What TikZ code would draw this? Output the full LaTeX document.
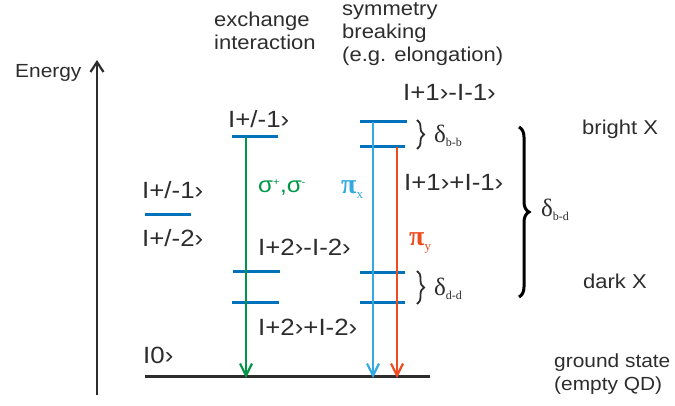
\documentclass[tikz,border=0pt]{standalone}
\usepackage{fontspec}
\setmainfont{Liberation Sans}[FakeStretch=1.1]
\newfontfamily\grk{Liberation Serif}
\usetikzlibrary{arrows.meta,decorations.pathreplacing}
\definecolor{lvlblue}{RGB}{0,114,188}
\definecolor{sgreen}{RGB}{0,150,70}
\definecolor{lblue}{RGB}{50,170,225}
\definecolor{sred}{RGB}{238,75,30}
\definecolor{txtgray}{RGB}{45,45,45}
\tikzset{
  lvl/.style={draw=lvlblue,line width=3pt},
  txt/.style={anchor=base west,inner sep=0pt,text=txtgray,font=\fontsize{20}{23}\selectfont},
  ket/.style={anchor=base west,inner sep=0pt,text=txtgray,font=\fontsize{23.5}{26}\selectfont},
  gtxt/.style={anchor=base west,inner sep=0pt,font=\grk\bfseries\fontsize{28}{29}\selectfont},
  dtxt/.style={anchor=west,inner sep=0pt,text=txtgray,font=\grk\fontsize{25}{26}\selectfont},
  trans/.style={line width=2.8pt,-{Straight Barb[length=12pt,width=12pt,line width=2.2pt]}},
  smallbrace/.style={draw=txtgray,line width=1.8pt,decorate,decoration={brace,amplitude=7pt}},
  bigbrace/.style={draw=black,line width=3pt,decorate,decoration={brace,amplitude=10pt}},
}
\newcommand{\sub}[1]{\raisebox{-0.35ex}{\mdseries\fontsize{13}{13}\selectfont #1}}
\newcommand{\dsub}[1]{\raisebox{-0.35ex}{\fontsize{12}{12}\selectfont #1}}
\begin{document}
\begin{tikzpicture}[x=1pt,y=-1pt]
\useasboundingbox (0,0) rectangle (675,406);
% energy axis
\coordinate (ea) at (97,395);
\coordinate (eb) at (97,60);
\draw[line width=2.2pt,-{Straight Barb[length=10pt,width=13pt,line width=2.2pt]},txtgray] (ea) -- (eb);
\node[txt,font=\fontsize{19}{23}\selectfont] (energy) at (15,78) {Energy};
% column headers (base = last line)
\node[txt,align=left] (exch) at (214,50) {exchange\\interaction};
\node[txt,align=left] (symm) at (342,62) {symmetry\\breaking\\(e.g. elongation)};
% ground state
\coordinate (gl) at (145,376);
\coordinate (gr) at (430,376);
\draw[line width=3pt,txtgray] (gl) -- (gr);
\node[ket] (k0) at (143,363) {I0›};
\node[txt,align=left,font=\fontsize{19}{23}\selectfont] (gs) at (554,390) {ground state\\(empty QD)};
% left degenerate level
\coordinate (la) at (145,215);
\coordinate (lb) at (191,215);
\draw[lvl] (la) -- (lb);
\node[ket] (k1) at (142,199) {I+/-1›};
\node[ket] (k2) at (142,247) {I+/-2›};
% exchange column
\coordinate (x1a) at (232,137); \coordinate (x1b) at (278,137);
\coordinate (x2a) at (233,272); \coordinate (x2b) at (280,272);
\coordinate (x3a) at (232,302); \coordinate (x3b) at (279,302);
\draw[lvl] (x1a) -- (x1b);
\draw[lvl] (x2a) -- (x2b);
\draw[lvl] (x3a) -- (x3b);
\node[ket] (kx1) at (228,128) {I+/-1›};
\node[ket] (kx2) at (258,256) {I+2›-I-2›};
\node[ket] (kx3) at (258,335) {I+2›+I-2›};
\coordinate (gA) at (246,137);
\coordinate (gA0) at (246,378);
\draw[trans,sgreen] (gA) -- (gA0);
\node[anchor=base west,inner sep=0pt,text=sgreen,font=\fontsize{22}{23}\selectfont] (sig) at (258,193) {σ\textsuperscript{\fontsize{10}{10}\selectfont +},σ\textsuperscript{\fontsize{10}{10}\selectfont -}};
% symmetry column
\coordinate (s1a) at (360,122); \coordinate (s1b) at (407,122);
\coordinate (s2a) at (360,147); \coordinate (s2b) at (405,147);
\coordinate (s3a) at (360,273); \coordinate (s3b) at (405,273);
\coordinate (s4a) at (360,302); \coordinate (s4b) at (405,302);
\draw[lvl] (s1a) -- (s1b);
\draw[lvl] (s2a) -- (s2b);
\draw[lvl] (s3a) -- (s3b);
\draw[lvl] (s4a) -- (s4b);
\coordinate (pA) at (373,122);
\coordinate (pA0) at (373,378);
\coordinate (pB) at (397,147);
\coordinate (pB0) at (397,378);
\draw[trans,lblue] (pA) -- (pA0);
\draw[trans,sred] (pB) -- (pB0);
\node[gtxt,text=lblue] (px) at (341,194) {π\sub{x}};
\node[gtxt,text=sred] (py) at (409,246) {π\sub{y}};
\node[ket] (ks1) at (403,101) {I+1›-I-1›};
\node[ket] (ks2) at (404,191) {I+1›+I-1›};
% small braces
\coordinate (bb1) at (417,120); \coordinate (bb2) at (417,149);
\coordinate (bd1) at (417,271); \coordinate (bd2) at (417,304);
\draw[smallbrace] (bb1) -- (bb2);
\draw[smallbrace] (bd1) -- (bd2);
\node[dtxt] (dbb) at (434,136) {δ\dsub{b-b}};
\node[dtxt] (ddd) at (434,289) {δ\dsub{d-d}};
% big brace
\coordinate (B1) at (519,127); \coordinate (B2) at (519,297);
\draw[bigbrace] (B1) -- (B2);
\node[dtxt] (dbd) at (541,210) {δ\dsub{b-d}};
\node[txt] (bright) at (582,135) {bright X};
\node[txt] (dark) at (583,289) {dark X};
\end{tikzpicture}
\end{document}
